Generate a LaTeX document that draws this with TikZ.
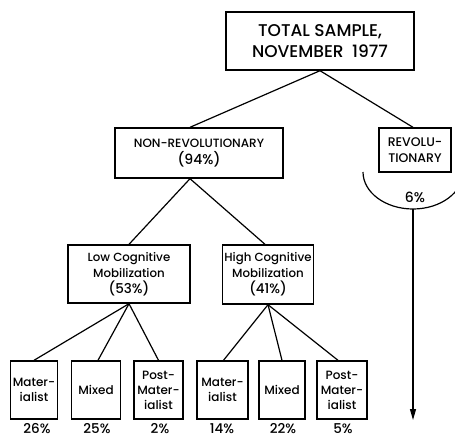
\documentclass[tikz,border=0pt]{standalone}
\usepackage{fontspec}
\setmainfont{Poppins}[UprightFont=* Medium]
\usetikzlibrary{arrows.meta}
\newcommand{\fsz}[2]{\fontsize{#1}{#2}\selectfont}
\begin{document}
\begin{tikzpicture}[x=1pt,y=-1pt,
  box/.style={draw,line width=1.4pt,inner sep=0pt,align=center},
  conn/.style={line width=1.2pt},
  lbl/.style={inner sep=0pt,font=\fsz{13.5}{13.5}}]
\useasboundingbox (0,0) rectangle (455,437);
\fill[white] (0,0) rectangle (455,437);
% boxes
\node[box,minimum width=188pt,minimum height=58pt,font=\fsz{17}{21}] (top) at (320,41) {TOTAL SAMPLE,\\NOVEMBER\enspace1977};
\node[box,minimum width=168pt,minimum height=50pt,font=\fsz{12}{17}] (nonrev) at (199,153) {NON-REVOLUTIONARY\\{\fsz{14}{17}(94\%)}};
\node[box,minimum width=72pt,minimum height=44pt,font=\fsz{12.5}{16}] (rev) at (415,150) {REVOLU-\\TIONARY};
\node[box,minimum width=122pt,minimum height=58pt,font=\fsz{11.8}{16}] (low) at (129,274) {Low Cognitive\\Mobilization\\{\fsz{13.5}{16}(53\%)}};
\node[box,minimum width=91pt,minimum height=59pt,font=\fsz{11.8}{16}] (high) at (268,274.5) {High Cognitive\\Mobilization\\{\fsz{13.5}{16}(41\%)}};
\tikzset{leaf/.style={box,minimum height=58pt,font=\fsz{12}{15}}}
\node[leaf,minimum width=47pt] (l1) at (34,390) {Mater-\\ialist};
\node[leaf,minimum width=49pt] (l2) at (96,390) {Mixed};
\node[leaf,minimum width=49pt] (l3) at (158.5,390) {Post-\\Mater-\\ialist};
\node[leaf,minimum width=51pt] (l4) at (222.5,390) {Mater-\\ialist};
\node[leaf,minimum width=46pt] (l5) at (282,390) {Mixed};
\node[leaf,minimum width=50pt] (l6) at (342,390) {Post-\\Mater-\\ialist};
% percentages
\node[lbl] (p1) at (37,428.5) {26\%};
\node[lbl] (p2) at (97,428.5) {25\%};
\node[lbl] (p3) at (160,428.5) {2\%};
\node[lbl] (p4) at (222,428.5) {14\%};
\node[lbl] (p5) at (283,428.5) {22\%};
\node[lbl] (p6) at (343,428.5) {5\%};
% revolutionary cup
\coordinate (cupl) at (363,172);
\draw[conn] (cupl) arc[start angle=180,end angle=360,x radius=50pt,y radius=37pt];
\coordinate (cupb) at (413,209);
\node[lbl,font=\fsz{14}{14}] (six) at (415,197) {6\%};
\coordinate (arrend) at (413,420);
\draw[conn,-{Stealth[length=11pt,width=6pt,inset=0pt]}] (cupb) -- (arrend);
% connectors
\draw[conn] (top.south) -- ([xshift=-9pt]nonrev.north);
\draw[conn] (top.south) -- ([xshift=-2pt]rev.north);
\draw[conn] ([xshift=-9pt]nonrev.south) -- (low.north);
\draw[conn] ([xshift=-9pt]nonrev.south) -- ([xshift=-3pt]high.north);
\draw[conn] (low.south) -- (l1.north);
\draw[conn] (low.south) -- ([xshift=2pt]l2.north);
\draw[conn] (low.south) -- (l3.north);
\draw[conn] (high.south) -- ([xshift=1pt]l4.north);
\draw[conn] (high.south) -- (l5.north);
\draw[conn] (high.south) -- ([xshift=-4pt]l6.north);
\end{tikzpicture}
\end{document}
